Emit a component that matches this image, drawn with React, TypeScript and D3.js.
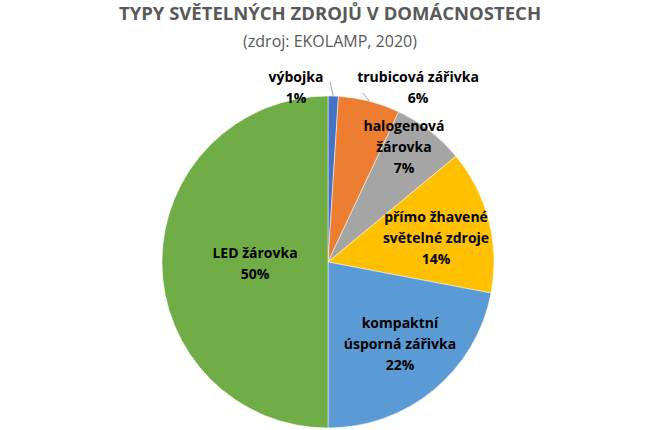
import React from "react";
import * as d3 from "d3";

const categories = [
  "výbojka",
  "trubicová zářivka",
  "halogenová žárovka",
  "přímo žhavené světelné zdroje",
  "kompaktní úsporná zářivka",
  "LED žárovka",
];
const values = [1, 6, 7, 14, 22, 50];
const labelLines = [
  ["výbojka", "1%"],
  ["trubicová zářivka", "6%"],
  ["halogenová", "žárovka", "7%"],
  ["přímo žhavené", "světelné zdroje", "14%"],
  ["kompaktní", "úsporná zářivka", "22%"],
  ["LED žárovka", "50%"],
];
const colors = ["#4472C4", "#ED7D31", "#A5A5A5", "#FFC000", "#5B9BD5", "#70AD47"];

// label layout (offset of first baseline from pie centre), leader start offsets
const labelLayout: { dx: number; dy: number; leader?: [number, number] }[] = [
  { dx: -32, dy: -180, leader: [2, -180] },
  { dx: 90, dy: -180, leader: [35, -169] },
  { dx: 76, dy: -131 },
  { dx: 108, dy: -40 },
  { dx: 72, dy: 66 },
  { dx: -73, dy: -4 },
];

const W = 670;
const H = 430;
const cx = 328;
const cy = 262;
const R = 166;
const FONT = "'Open Sans', 'Noto Sans', sans-serif";

export default function App() {
  const pie = d3.pie<number>().sort(null).value((d) => d)(values);
  const arc = d3.arc<d3.PieArcDatum<number>>().innerRadius(0).outerRadius(R);
  return (
    <svg width={W} height={H} style={{ position: "absolute", left: 0, top: 0, background: "#fff" }}>
      <text x={330} y={20} textAnchor="middle" fontFamily={FONT} fontWeight={700} fontSize={18.5} fill="#595959">
        TYPY SVĚTELNÝCH ZDROJŮ V DOMÁCNOSTECH
      </text>
      <text x={330} y={47} textAnchor="middle" fontFamily={FONT} fontSize={16} fill="#595959">
        (zdroj: EKOLAMP, 2020)
      </text>
      <g transform={`translate(${cx},${cy})`}>
        {pie.map((p, i) => (
          <path key={categories[i]} d={arc(p) || ""} fill={colors[i]} stroke="#fff" strokeWidth={0.5} />
        ))}
        {pie.map((p, i) => {
          const L = labelLayout[i];
          if (!L.leader) return null;
          const mid = (p.startAngle + p.endAngle) / 2;
          const ex = Math.sin(mid) * R;
          const ey = -Math.cos(mid) * R;
          return (
            <line key={"l" + i} x1={L.leader[0]} y1={L.leader[1]} x2={ex} y2={ey} stroke="#A6A6A6" strokeWidth={1} />
          );
        })}
        {labelLines.map((lines, i) => {
          const L = labelLayout[i];
          return (
            <text key={"t" + i} textAnchor="middle" fontFamily={FONT} fontWeight={700} fontSize={14} fill="#000">
              {lines.map((s, j) => (
                <tspan key={j} x={L.dx} y={L.dy + j * 21}>
                  {s}
                </tspan>
              ))}
            </text>
          );
        })}
      </g>
    </svg>
  );
}
